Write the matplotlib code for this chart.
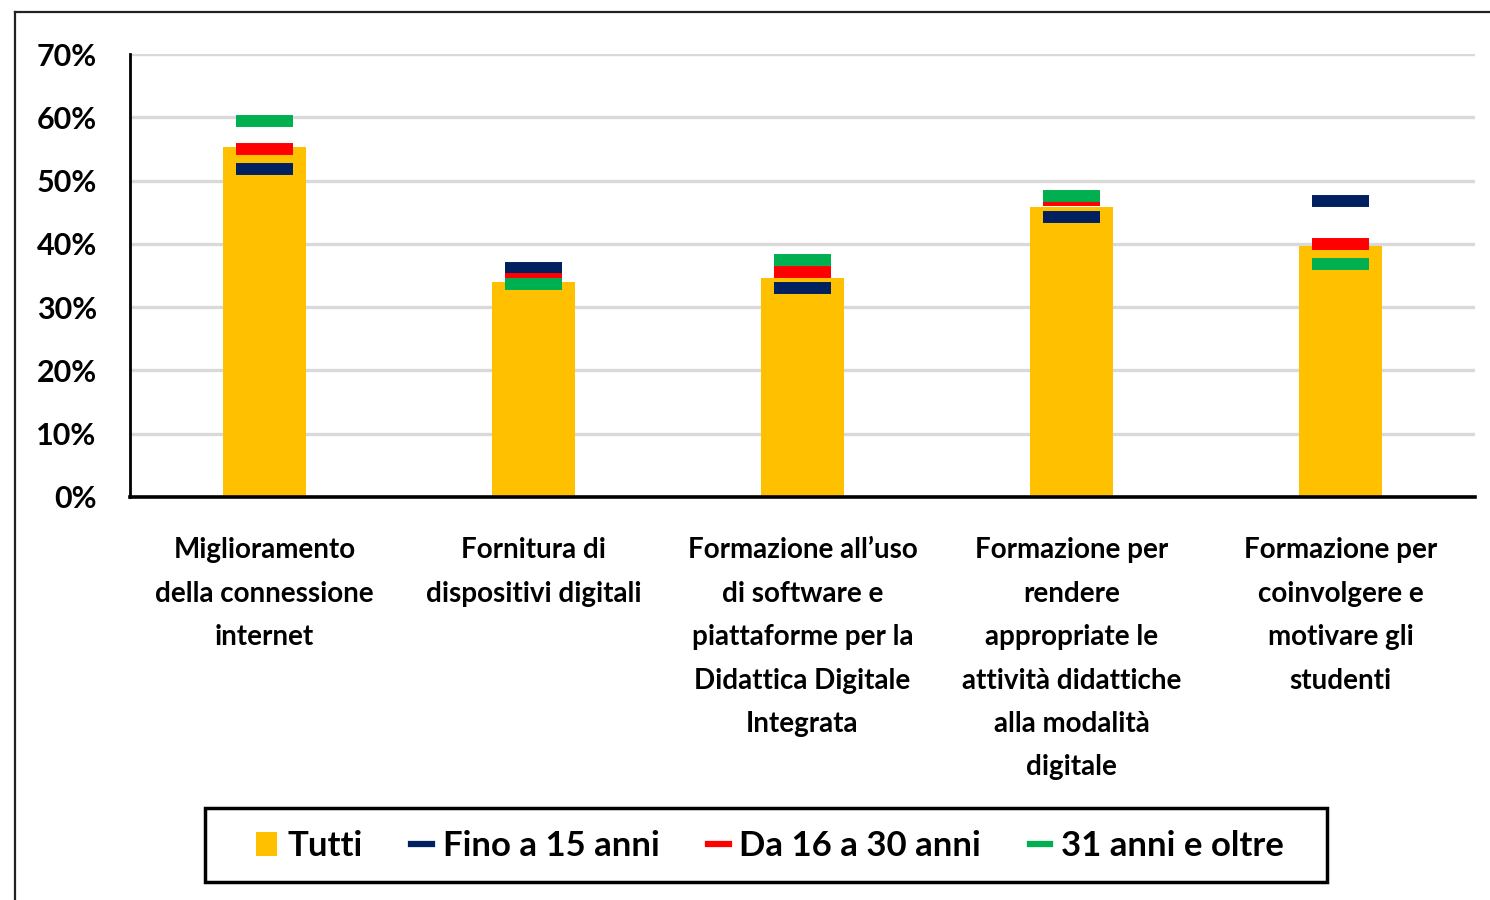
import matplotlib
matplotlib.use("Agg")
import matplotlib.pyplot as plt
from matplotlib.patches import Patch, Rectangle
from matplotlib.lines import Line2D
import numpy as np

categories = [
    "Miglioramento\ndella connessione\ninternet",
    "Fornitura di\ndispositivi digitali",
    "Formazione all\u2019uso\ndi software e\npiattaforme per la\nDidattica Digitale\nIntegrata",
    "Formazione per\nrendere\nappropriate le\nattivit\u00e0 didattiche\nalla modalit\u00e0\ndigitale",
    "Formazione per\ncoinvolgere e\nmotivare gli\nstudenti",
]
tutti = [55.3, 34.0, 34.6, 45.9, 39.7]
fino_15 = [51.9, 36.2, 33.1, 44.3, 46.8]
da_16_30 = [55.0, 34.4, 35.6, 47.0, 40.0]
oltre_31 = [59.4, 33.7, 37.5, 47.5, 36.8]
yticks = [0, 10, 20, 30, 40, 50, 60, 70]
ytick_labels = ["0%", "10%", "20%", "30%", "40%", "50%", "60%", "70%"]
legend_labels = ["Tutti", "Fino a 15 anni", "Da 16 a 30 anni", "31 anni e oltre"]

C_YEL = "#FFC000"
C_NAVY = "#002060"
C_RED = "#FF0000"
C_GREEN = "#00B050"

plt.rcParams['font.family'] = ['Lato', 'DejaVu Sans']
plt.rcParams['font.weight'] = 'bold'

W, H = 1490, 900
fig = plt.figure(figsize=(W/100, H/100), dpi=100)
ax = fig.add_axes([130/W, 1-497/H, (1475-130)/W, (497-54)/H])

x = np.arange(len(categories))
ax.bar(x, tutti, width=0.31, color=C_YEL, zorder=2)
hw = 0.106
for vals, col in [(fino_15, C_NAVY), (da_16_30, C_RED), (oltre_31, C_GREEN)]:
    ax.hlines(vals, x - hw, x + hw, colors=col, linewidth=8.6, zorder=3)

ax.set_xlim(-0.5, len(categories) - 0.5)
ax.set_ylim(0, 70)
ax.set_yticks(yticks)
ax.set_yticklabels(ytick_labels, fontsize=22, fontweight='bold')
ax.set_xticks(x)
ax.set_xticklabels(categories, fontsize=20, fontweight='bold', linespacing=1.83)
ax.tick_params(axis='y', length=0, pad=24)
ax.tick_params(axis='x', length=0, pad=29)
ax.yaxis.grid(True, color="#D9D9D9", linewidth=2.4, zorder=0)
ax.set_axisbelow(True)
for s in ['top', 'right']:
    ax.spines[s].set_visible(False)
ax.spines['left'].set_linewidth(2.0)
ax.spines['bottom'].set_linewidth(2.6)
ax.spines['left'].set_color('black')
ax.spines['bottom'].set_color('black')

handles = [
    Patch(facecolor=C_YEL, edgecolor='none'),
    Line2D([0], [0], color=C_NAVY, linewidth=4.5),
    Line2D([0], [0], color=C_RED, linewidth=4.5),
    Line2D([0], [0], color=C_GREEN, linewidth=4.5),
]
leg = fig.legend(handles, legend_labels, loc='center', bbox_to_anchor=(770/W, 1-846/H),
                 ncol=4, frameon=False, fontsize=25,
                 handlelength=0.6, handleheight=0.7, handletextpad=0.3,
                 columnspacing=1.4, borderpad=0, borderaxespad=0)
for t in leg.get_texts():
    t.set_fontweight('bold')

# legend box
fig.add_artist(Rectangle((205/W, 1-882/H), (1327-205)/W, (882-808)/H, transform=fig.transFigure,
                         fill=False, edgecolor='black', linewidth=2.5))

# outer chart border (left & top visible)
fig.add_artist(Line2D([15/W, 15/W], [0, 1-12/H], color='#222222', linewidth=1.6, transform=fig.transFigure))
fig.add_artist(Line2D([15/W, 1], [1-12/H, 1-12/H], color='#222222', linewidth=1.6, transform=fig.transFigure))

fig.savefig("out.png", dpi=100)
